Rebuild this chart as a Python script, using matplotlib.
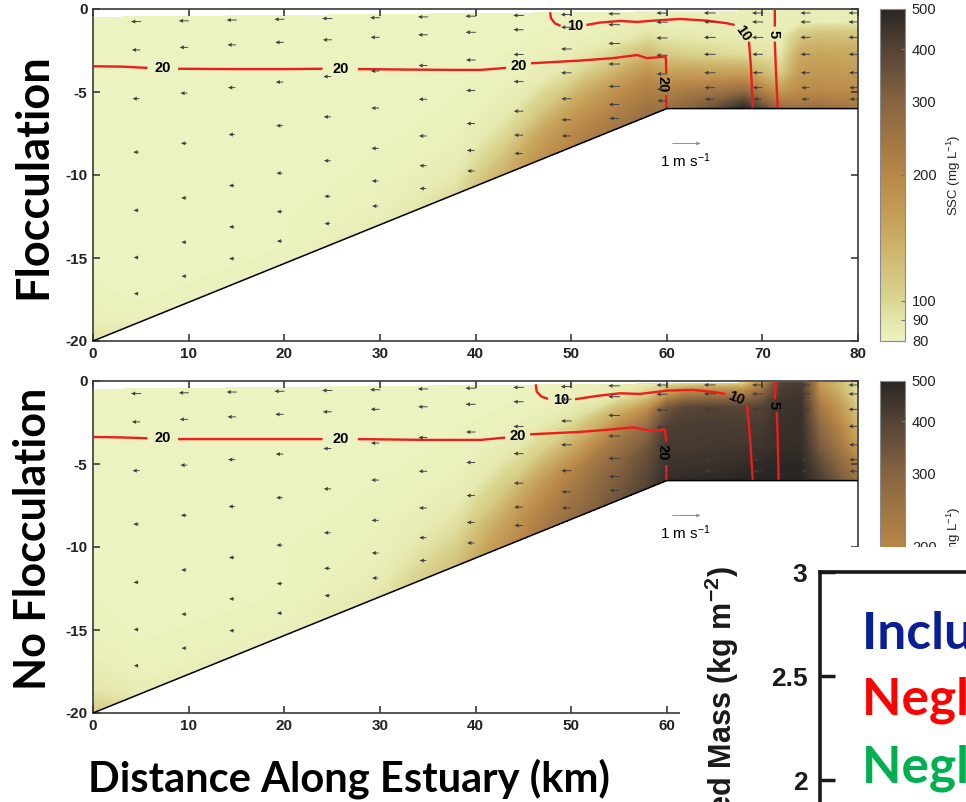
import numpy as np
import matplotlib
matplotlib.use("Agg")
import matplotlib.pyplot as plt
from matplotlib.colors import LinearSegmentedColormap, LogNorm
from matplotlib.cm import ScalarMappable
from matplotlib.ticker import FixedLocator, FixedFormatter, NullLocator

plt.rcParams['font.family'] = ['Liberation Sans', 'DejaVu Sans']
plt.rcParams['axes.unicode_minus'] = False
plt.rcParams['mathtext.fontset'] = 'custom'
plt.rcParams['mathtext.rm'] = 'Liberation Sans'
plt.rcParams['mathtext.it'] = 'Liberation Sans:italic'
plt.rcParams['mathtext.bf'] = 'Liberation Sans:bold'

nan = np.nan

# ---------------- estuary geometry ----------------
bathy_x = [0, 60, 80]
bathy_z = [-20, -6, -6]
surface_x = [0, 80]
surface_z = [-0.5, -0.05]

# ---------------- suspended sediment (mg/L) on an x / sigma grid ----------------
ssc_x = [0, 5, 10, 20, 30, 38, 43, 47, 51, 55, 58, 60, 62, 65, 68, 70, 72, 74, 76, 80]
ssc_sigma = [0, 0.12, 0.25, 0.45, 0.65, 0.82, 0.93, 1.0]

# one list per x station, surface -> bed
ssc_floc_cols = [
    [81, 81, 81, 81, 81, 81, 83, 92],
    [81, 81, 81, 81, 81, 81, 81, 83],
    [81, 81, 81, 81, 81, 81, 81, 82],
    [81, 81, 81, 81, 81, 81, 81, 82],
    [81, 81, 81, 81, 81, 82, 83, 85],
    [81, 81, 81, 81, 82, 85, 90, 96],
    [81, 81, 81, 82, 88, 105, 125, 135],
    [81, 81, 82, 86, 110, 150, 170, 180],
    [81, 82, 84, 98, 145, 185, 205, 215],
    [82, 83, 87, 120, 175, 210, 230, 240],
    [83, 84, 95, 140, 195, 230, 250, 260],
    [83, 84, 88, 110, 160, 210, 240, 255],
    [83, 84, 87, 105, 165, 225, 265, 290],
    [83, 84, 86, 100, 160, 240, 310, 350],
    [83, 84, 85, 95, 160, 270, 400, 480],
    [83, 84, 85, 92, 130, 210, 300, 380],
    [83, 84, 85, 90, 110, 160, 220, 270],
    [83, 85, 110, 145, 165, 190, 220, 260],
    [83, 85, 120, 150, 170, 195, 230, 270],
    [83, 85, 115, 145, 165, 190, 215, 240],
]
ssc_nofloc_cols = [
    [81, 81, 81, 81, 81, 83, 90, 110],
    [81, 81, 81, 81, 81, 81, 82, 85],
    [81, 81, 81, 81, 81, 81, 82, 84],
    [81, 81, 81, 81, 81, 81, 82, 83],
    [81, 81, 81, 81, 82, 83, 86, 90],
    [81, 81, 81, 82, 86, 97, 110, 120],
    [81, 81, 82, 88, 110, 145, 165, 175],
    [81, 82, 85, 105, 160, 200, 220, 230],
    [82, 84, 95, 150, 220, 255, 270, 280],
    [84, 92, 140, 230, 290, 320, 335, 345],
    [87, 110, 190, 290, 350, 380, 395, 405],
    [90, 170, 330, 410, 430, 450, 465, 480],
    [93, 230, 390, 420, 430, 450, 470, 485],
    [93, 240, 400, 425, 435, 455, 475, 490],
    [98, 230, 390, 425, 440, 470, 490, 500],
    [180, 300, 400, 430, 450, 480, 495, 500],
    [400, 430, 450, 460, 470, 490, 500, 500],
    [420, 440, 455, 465, 475, 490, 500, 500],
    [160, 190, 230, 280, 320, 370, 400, 420],
    [88, 92, 105, 130, 160, 200, 230, 250],
]

# ---------------- along-channel velocity (m/s) ----------------
arrow_x = [4.5, 9.5, 14.5, 19.5, 24.5, 29.5, 34.5, 39.5,
           44.5, 49.5, 54.5, 59.5, 64.5, 69.5, 74.5, 79.5]
arrow_sigma = [0.04, 0.13, 0.285, 0.455, 0.64, 0.79, 0.905]
arrow_u = [
    [-.36, -.36, -.36, -.36, -.36, -.36, -.36, -.38, -.38, -.40, -.42, -.40, -.42, -.40, -.36, -.34],
    [-.30, -.30, -.30, -.30, -.32, -.32, -.34, -.36, -.36, -.38, -.42, -.40, -.42, -.40, -.36, -.34],
    [-.25, -.25, -.26, -.27, -.28, -.30, -.32, -.34, -.36, -.38, -.42, -.40, -.42, -.40, -.36, -.34],
    [-.20, -.21, -.22, -.24, -.26, -.28, -.30, -.32, -.35, -.38, -.42, -.40, -.42, -.38, -.34, -.32],
    [-.18, -.19, -.20, -.22, -.24, -.26, -.28, -.30, -.34, -.36, -.40, -.38, -.40, -.36, -.32, -.30],
    [-.17, -.18, -.19, -.20, -.22, -.24, -.26, -.28, -.32, -.34, -.38, -.36, -.38, -.34, -.30, -.28],
    [-.16, -.17, -.18, -.19, -.20, -.22, -.24, -.26, -.30, -.32, -.34, -.32, -.34, -.30, -.28, -.26],
]
key_speed = 1.0

# ---------------- salinity isohalines (psu) ----------------
floc_s20_x = [0, 3, 5.7, nan, 8.9, 15, 20, 24, nan, 27.7, 33, 38, 40.5, 43.2, nan,
              45.8, 48, 50.9, 54.4, 56.9, 57.9, 59.3, 59.9, 59.95, nan, 59.95, 59.95]
floc_s20_z = [-3.45, -3.47, -3.55, nan, -3.6, -3.62, -3.62, -3.6, nan, -3.62, -3.65, -3.67, -3.67, -3.55, nan,
              -3.27, -3.2, -3.11, -2.96, -2.77, -2.96, -2.9, -2.88, -3.86, nan, -5.18, -6.0]
floc_s10_x = [47.8, 47.9, 48.3, 48.9, nan, 51.6, 53.0, 55.1, 56.9, 58.6, 61.4, 64.2, 66.3, 67.1, nan,
              68.6, 68.8, 69.0]
floc_s10_z = [-0.2, -0.56, -0.86, -1.02, nan, -0.96, -0.82, -0.72, -0.78, -0.7, -0.6, -0.7, -0.86, -0.96, nan,
              -1.97, -3.47, -6.0]
floc_s5_x = [71.3, 71.3, nan, 71.3, 71.4, 71.6]
floc_s5_z = [0.0, -1.06, nan, -1.97, -3.47, -6.0]

nofloc_s20_x = [0, 3, 5.7, nan, 8.9, 15, 20, 24, nan, 27.7, 35, 40.5, 43.1, nan,
                45.7, 50.9, 54.4, 56.5, 57.5, 58.6, 59.8, 59.95, nan, 59.95, 59.95]
nofloc_s20_z = [-3.37, -3.4, -3.45, nan, -3.5, -3.5, -3.5, -3.5, nan, -3.5, -3.55, -3.55, -3.41, nan,
                -3.21, -3.07, -2.91, -2.79, -2.91, -3.01, -2.91, -3.65, nan, -5.06, -6.0]
nofloc_s10_x = [46.3, 46.4, 46.9, 47.6, nan, 50.4, 52.7, 55.1, 57.2, 60.0, 62.8, 64.9, 66.1, nan,
                68.4, 68.7, 69.0]
nofloc_s10_z = [-0.2, -0.64, -0.94, -1.08, nan, -1.1, -0.9, -0.74, -0.78, -0.58, -0.54, -0.66, -0.78, nan,
                -1.45, -3.35, -6.0]
nofloc_s5_x = [71.4, 71.3, nan, 71.5, 71.6, 71.7]
nofloc_s5_z = [0.0, -1.1, nan, -1.85, -3.35, -6.0]

# contour label text, position and angle
floc_labels = [("20", 7.3, -3.55, 0), ("20", 25.85, -3.62, 0), ("20", 44.5, -3.42, 0),
               ("20", 59.6, -4.5, -90), ("10", 50.4, -1.0, 0), ("10", 68.0, -1.47, -55),
               ("5", 71.15, -1.5, -90)]
nofloc_labels = [("20", 7.3, -3.45, 0), ("20", 25.85, -3.5, 0), ("20", 44.4, -3.33, 0),
                 ("20", 59.6, -4.3, -90), ("10", 49.0, -1.12, 0), ("10", 67.3, -1.05, -22),
                 ("5", 71.15, -1.45, -90)]

# ---------------- deposited mass inset ----------------
mass_ticks = [2, 2.5, 3]
mass_tick_labels = ["2", "2.5", "3"]
case_names = ["Including Flocculation", "Neglecting Flocculation", "Neglecting Settling"]
case_colors = ["#0A1E96", "#FF0000", "#00B050"]

cbar_ticks = [80, 90, 100, 200, 300, 400, 500]

# ---------------- colour map ----------------
ssc_cmap = LinearSegmentedColormap.from_list("ssc", [
    (0.000, (236/255, 242/255, 192/255)),
    (0.064, (228/255, 230/255, 170/255)),
    (0.122, (218/255, 214/255, 145/255)),
    (0.343, (200/255, 165/255, 92/255)),
    (0.500, (184/255, 135/255, 72/255)),
    (0.721, (135/255, 100/255, 64/255)),
    (0.878, (85/255, 68/255, 54/255)),
    (1.000, (42/255, 38/255, 36/255)),
])
SSC_MIN, SSC_MAX = 80, 500
fill_levels = np.geomspace(SSC_MIN, SSC_MAX, 140)

W, H = 966, 802
fig = plt.figure(figsize=(W / 100, H / 100), dpi=100)


def box(left, top, right, bottom):
    return [left / W, 1 - bottom / H, (right - left) / W, (bottom - top) / H]


def fx(px):
    return px / W


def fy(py):
    return 1 - py / H


SPINE = "#3a3a3a"


def draw_panel(ax, cols, s20, s10, s5, labels):
    xs = np.array(ssc_x, dtype=float)
    sig = np.array(ssc_sigma, dtype=float)
    top = np.interp(xs, surface_x, surface_z)
    bed = np.interp(xs, bathy_x, bathy_z)
    X = np.tile(xs, (len(sig), 1))
    Z = top[None, :] + sig[:, None] * (bed - top)[None, :]
    C = np.array(cols, dtype=float).T
    ax.contourf(X, Z, C, levels=fill_levels, cmap=ssc_cmap,
                norm=LogNorm(vmin=SSC_MIN, vmax=SSC_MAX),
                extend="both", zorder=1, antialiased=False)

    ax.plot(bathy_x, bathy_z, color="black", lw=1.1, zorder=5)

    for lx, lz in (s20, s10, s5):
        ax.plot(lx, lz, color="#EE1C1C", lw=1.7, zorder=3, solid_capstyle="butt")
    for txt, x, z, rot in labels:
        ax.text(x, z, txt, ha="center", va="center", rotation=rot % 360,
                fontsize=10.5, fontweight="bold", color="black", zorder=4)

    ax_arr = np.array(arrow_x, dtype=float)
    asg = np.array(arrow_sigma, dtype=float)
    abed = np.interp(ax_arr, bathy_x, bathy_z)
    AX = np.tile(ax_arr, (len(asg), 1))
    AZ = asg[:, None] * abed[None, :]
    U = np.array(arrow_u, dtype=float)
    Q = ax.quiver(AX, AZ, U, np.zeros_like(U), pivot="middle", color="#3c3c3c",
                  units="dots", width=0.9, headwidth=4.5, headlength=5, headaxislength=4.5,
                  scale_units="dots", scale=1 / 28.0, zorder=6)
    ax.quiverkey(Q, 62.0, -8.1, key_speed, r"1 m s$^{-1}$", coordinates="data",
                 labelpos="S", color="#8a8a8a", labelsep=0.08,
                 fontproperties={"size": 11})

    ax.set_xlim(0, 80)
    ax.set_ylim(-20, 0)
    ax.set_xticks(range(0, 81, 10))
    ax.set_yticks([-20, -15, -10, -5, 0])
    ax.set_yticklabels(["-20", "-15", "-10", "-5", "0"])
    ax.tick_params(direction="in", top=True, right=True, length=5, width=1.2,
                   color=SPINE, labelsize=11, pad=4)
    for lab in ax.get_xticklabels() + ax.get_yticklabels():
        lab.set_fontweight("bold")
        lab.set_color("#222222")
    for sp in ax.spines.values():
        sp.set_color(SPINE)
        sp.set_linewidth(1.2)


def draw_cbar(cax):
    sm = ScalarMappable(norm=LogNorm(vmin=SSC_MIN, vmax=SSC_MAX), cmap=ssc_cmap)
    cb = fig.colorbar(sm, cax=cax)
    cax.yaxis.set_major_locator(FixedLocator(cbar_ticks))
    cax.yaxis.set_major_formatter(FixedFormatter([str(t) for t in cbar_ticks]))
    cax.yaxis.set_minor_locator(NullLocator())
    cax.tick_params(direction="in", length=3, width=0.8, color="#777777",
                    labelsize=10.5, pad=5)
    for lab in cax.get_yticklabels():
        lab.set_color("#222222")
    cb.outline.set_edgecolor("#8a8a8a")
    cb.outline.set_linewidth(0.8)
    cax.set_ylabel(r"SSC (mg L$^{-1}$)", fontsize=9.5, labelpad=6, color="#222222")


ax1 = fig.add_axes(box(93, 9, 858, 341))
draw_panel(ax1, ssc_floc_cols, (floc_s20_x, floc_s20_z), (floc_s10_x, floc_s10_z),
           (floc_s5_x, floc_s5_z), floc_labels)
cax1 = fig.add_axes(box(880, 9, 905, 341))
draw_cbar(cax1)

ax2 = fig.add_axes(box(93, 381, 858, 713))
draw_panel(ax2, ssc_nofloc_cols, (nofloc_s20_x, nofloc_s20_z), (nofloc_s10_x, nofloc_s10_z),
           (nofloc_s5_x, nofloc_s5_z), nofloc_labels)
cax2 = fig.add_axes(box(880, 381, 905, 713))
draw_cbar(cax2)

fig.text(fx(33), fy(176), "Flocculation", rotation=90, ha="center", va="center",
         fontsize=32.5, fontweight="bold", family=["Lato", "DejaVu Sans"])
fig.text(fx(33), fy(539), "No Flocculation", rotation=90, ha="center", va="center",
         fontsize=31, fontweight="bold", family=["Lato", "DejaVu Sans"])
fig.text(fx(349), fy(779), "Distance Along Estuary (km)", ha="center", va="center",
         fontsize=30, fontweight="bold", family=["Lato", "DejaVu Sans"])

# ---------------- deposited mass inset (overlapping) ----------------
bg = fig.add_axes(box(680, 547, 966, 802))
bg.set_zorder(20)
bg.set_facecolor("white")
bg.set_xticks([])
bg.set_yticks([])
for sp in bg.spines.values():
    sp.set_visible(False)

axm = fig.add_axes(box(820, 572, 1400, 884))
axm.set_zorder(21)
axm.patch.set_alpha(0)
axm.set_xlim(0, 1)
axm.set_ylim(1.5, 3)
axm.set_xticks([])
axm.set_yticks(mass_ticks)
axm.set_yticklabels(mass_tick_labels)
axm.tick_params(axis="y", direction="in", length=11, width=2.5, labelsize=19, pad=9,
                color="#1a1a1a")
for lab in axm.get_yticklabels():
    lab.set_fontweight("bold")
    lab.set_color("#1a1a1a")
for sp in axm.spines.values():
    sp.set_linewidth(2.6)
    sp.set_color("#1a1a1a")

fig.text(fx(722), fy(566), r"Suspended Mass (kg m$^{\mathbf{-2}}$)", rotation=90,
         ha="center", va="top", fontsize=22, fontweight="bold", color="#1a1a1a", zorder=30)

for name, col, base in zip(case_names, case_colors, [648, 715, 782]):
    fig.text(fx(862), fy(base), name, color=col, ha="left", va="baseline",
             fontsize=37, fontweight="bold", family=["Lato", "DejaVu Sans"], zorder=30)

fig.savefig("out.png", dpi=100)
